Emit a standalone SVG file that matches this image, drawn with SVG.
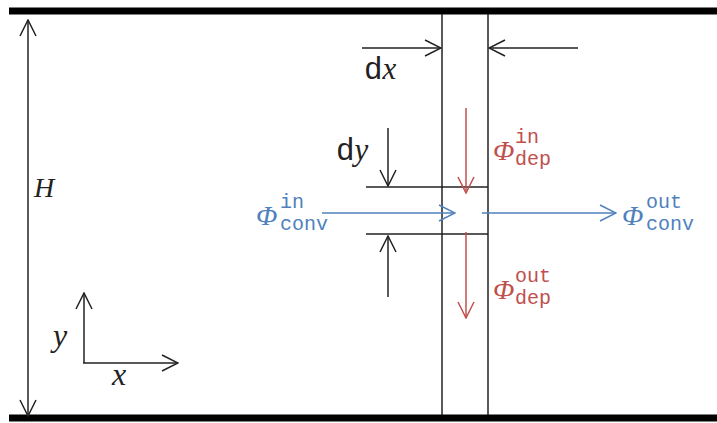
<svg xmlns="http://www.w3.org/2000/svg" width="717" height="423" viewBox="0 0 717 423">
<defs>
<marker id="ah" viewBox="0 0 18 18" refX="17" refY="9" markerWidth="18" markerHeight="18" markerUnits="userSpaceOnUse" orient="auto-start-reverse">
<path d="M1,1 L17,9 L1,17" fill="none" stroke="#222" stroke-width="1.5"/>
</marker>
<marker id="ahr" viewBox="0 0 18 18" refX="17" refY="9" markerWidth="18" markerHeight="18" markerUnits="userSpaceOnUse" orient="auto-start-reverse">
<path d="M1,1 L17,9 L1,17" fill="none" stroke="#c0504d" stroke-width="1.5"/>
</marker>
<marker id="ahb" viewBox="0 0 18 18" refX="17" refY="9" markerWidth="18" markerHeight="18" markerUnits="userSpaceOnUse" orient="auto-start-reverse">
<path d="M1,1 L17,9 L1,17" fill="none" stroke="#4f81bd" stroke-width="1.5"/>
</marker>
</defs>
<style>
.k{stroke:#222;stroke-width:1.5;fill:none}
.wall{stroke:#000;stroke-width:7}
.r{stroke:#c0504d;stroke-width:1.5;fill:none}
.b{stroke:#4f81bd;stroke-width:1.6;fill:none}
.it{font-family:"Liberation Serif",serif;font-style:italic}
.mono{font-family:"Liberation Mono",monospace}
.red{fill:#c0504d}
.blue{fill:#4f81bd}
.blk{fill:#222}
</style>
<rect width="717" height="423" fill="#fff"/>
<g id="walls">
<line class="wall" x1="9" y1="11" x2="717" y2="11"/>
<line class="wall" x1="9" y1="418" x2="717" y2="418"/>
</g>
<g id="cell">
<line class="k" x1="442" y1="14" x2="442" y2="415"/>
<line class="k" x1="488" y1="14" x2="488" y2="415"/>
<line class="k" x1="366" y1="187" x2="488" y2="187"/>
<line class="k" x1="366" y1="234" x2="488" y2="234"/>
</g>
<g id="connectors">
<line class="k" x1="28" y1="20" x2="28" y2="416" marker-start="url(#ah)" marker-end="url(#ah)"/>
<line class="k" x1="362" y1="48" x2="441" y2="48" marker-end="url(#ah)"/>
<line class="k" x1="578" y1="48" x2="489" y2="48" marker-end="url(#ah)"/>
<line class="k" x1="388" y1="128" x2="388" y2="186" marker-end="url(#ah)"/>
<line class="k" x1="388" y1="297" x2="388" y2="236" marker-end="url(#ah)"/>
<line class="r" x1="466" y1="108" x2="466" y2="193" marker-end="url(#ahr)"/>
<line class="r" x1="466" y1="232" x2="466" y2="318" marker-end="url(#ahr)"/>
<line class="b" x1="322" y1="213" x2="455" y2="213" marker-end="url(#ahb)"/>
<line class="b" x1="482" y1="213" x2="616" y2="213" marker-end="url(#ahb)"/>
<line class="k" x1="84" y1="363" x2="84" y2="293" marker-end="url(#ah)"/>
<line class="k" x1="83" y1="363" x2="178" y2="363" marker-end="url(#ah)"/>
</g>
<g id="labels">
<text class="it blk" x="34" y="197" font-size="28">H</text>
<text class="blk" x="364" y="79" font-size="31"><tspan class="mono">d</tspan><tspan class="it">x</tspan></text>
<text class="blk" x="336" y="160" font-size="31"><tspan class="mono">d</tspan><tspan class="it">y</tspan></text>
<text class="it blk" x="53" y="346" font-size="32">y</text>
<text class="it blk" x="112" y="385" font-size="32">x</text>
<g class="red">
<text class="it" x="493" y="160" font-size="28">Φ</text>
<text class="mono" x="515" y="143" font-size="20">in</text>
<text class="mono" x="515" y="165" font-size="20">dep</text>
<text class="it" x="493" y="299" font-size="28">Φ</text>
<text class="mono" x="515" y="282" font-size="20">out</text>
<text class="mono" x="515" y="304" font-size="20">dep</text>
</g>
<g class="blue">
<text class="it" x="256" y="225" font-size="28">Φ</text>
<text class="mono" x="280" y="208" font-size="20">in</text>
<text class="mono" x="280" y="230" font-size="20">conv</text>
<text class="it" x="622" y="225" font-size="28">Φ</text>
<text class="mono" x="646" y="208" font-size="20">out</text>
<text class="mono" x="646" y="230" font-size="20">conv</text>
</g>
</g>
</svg>
